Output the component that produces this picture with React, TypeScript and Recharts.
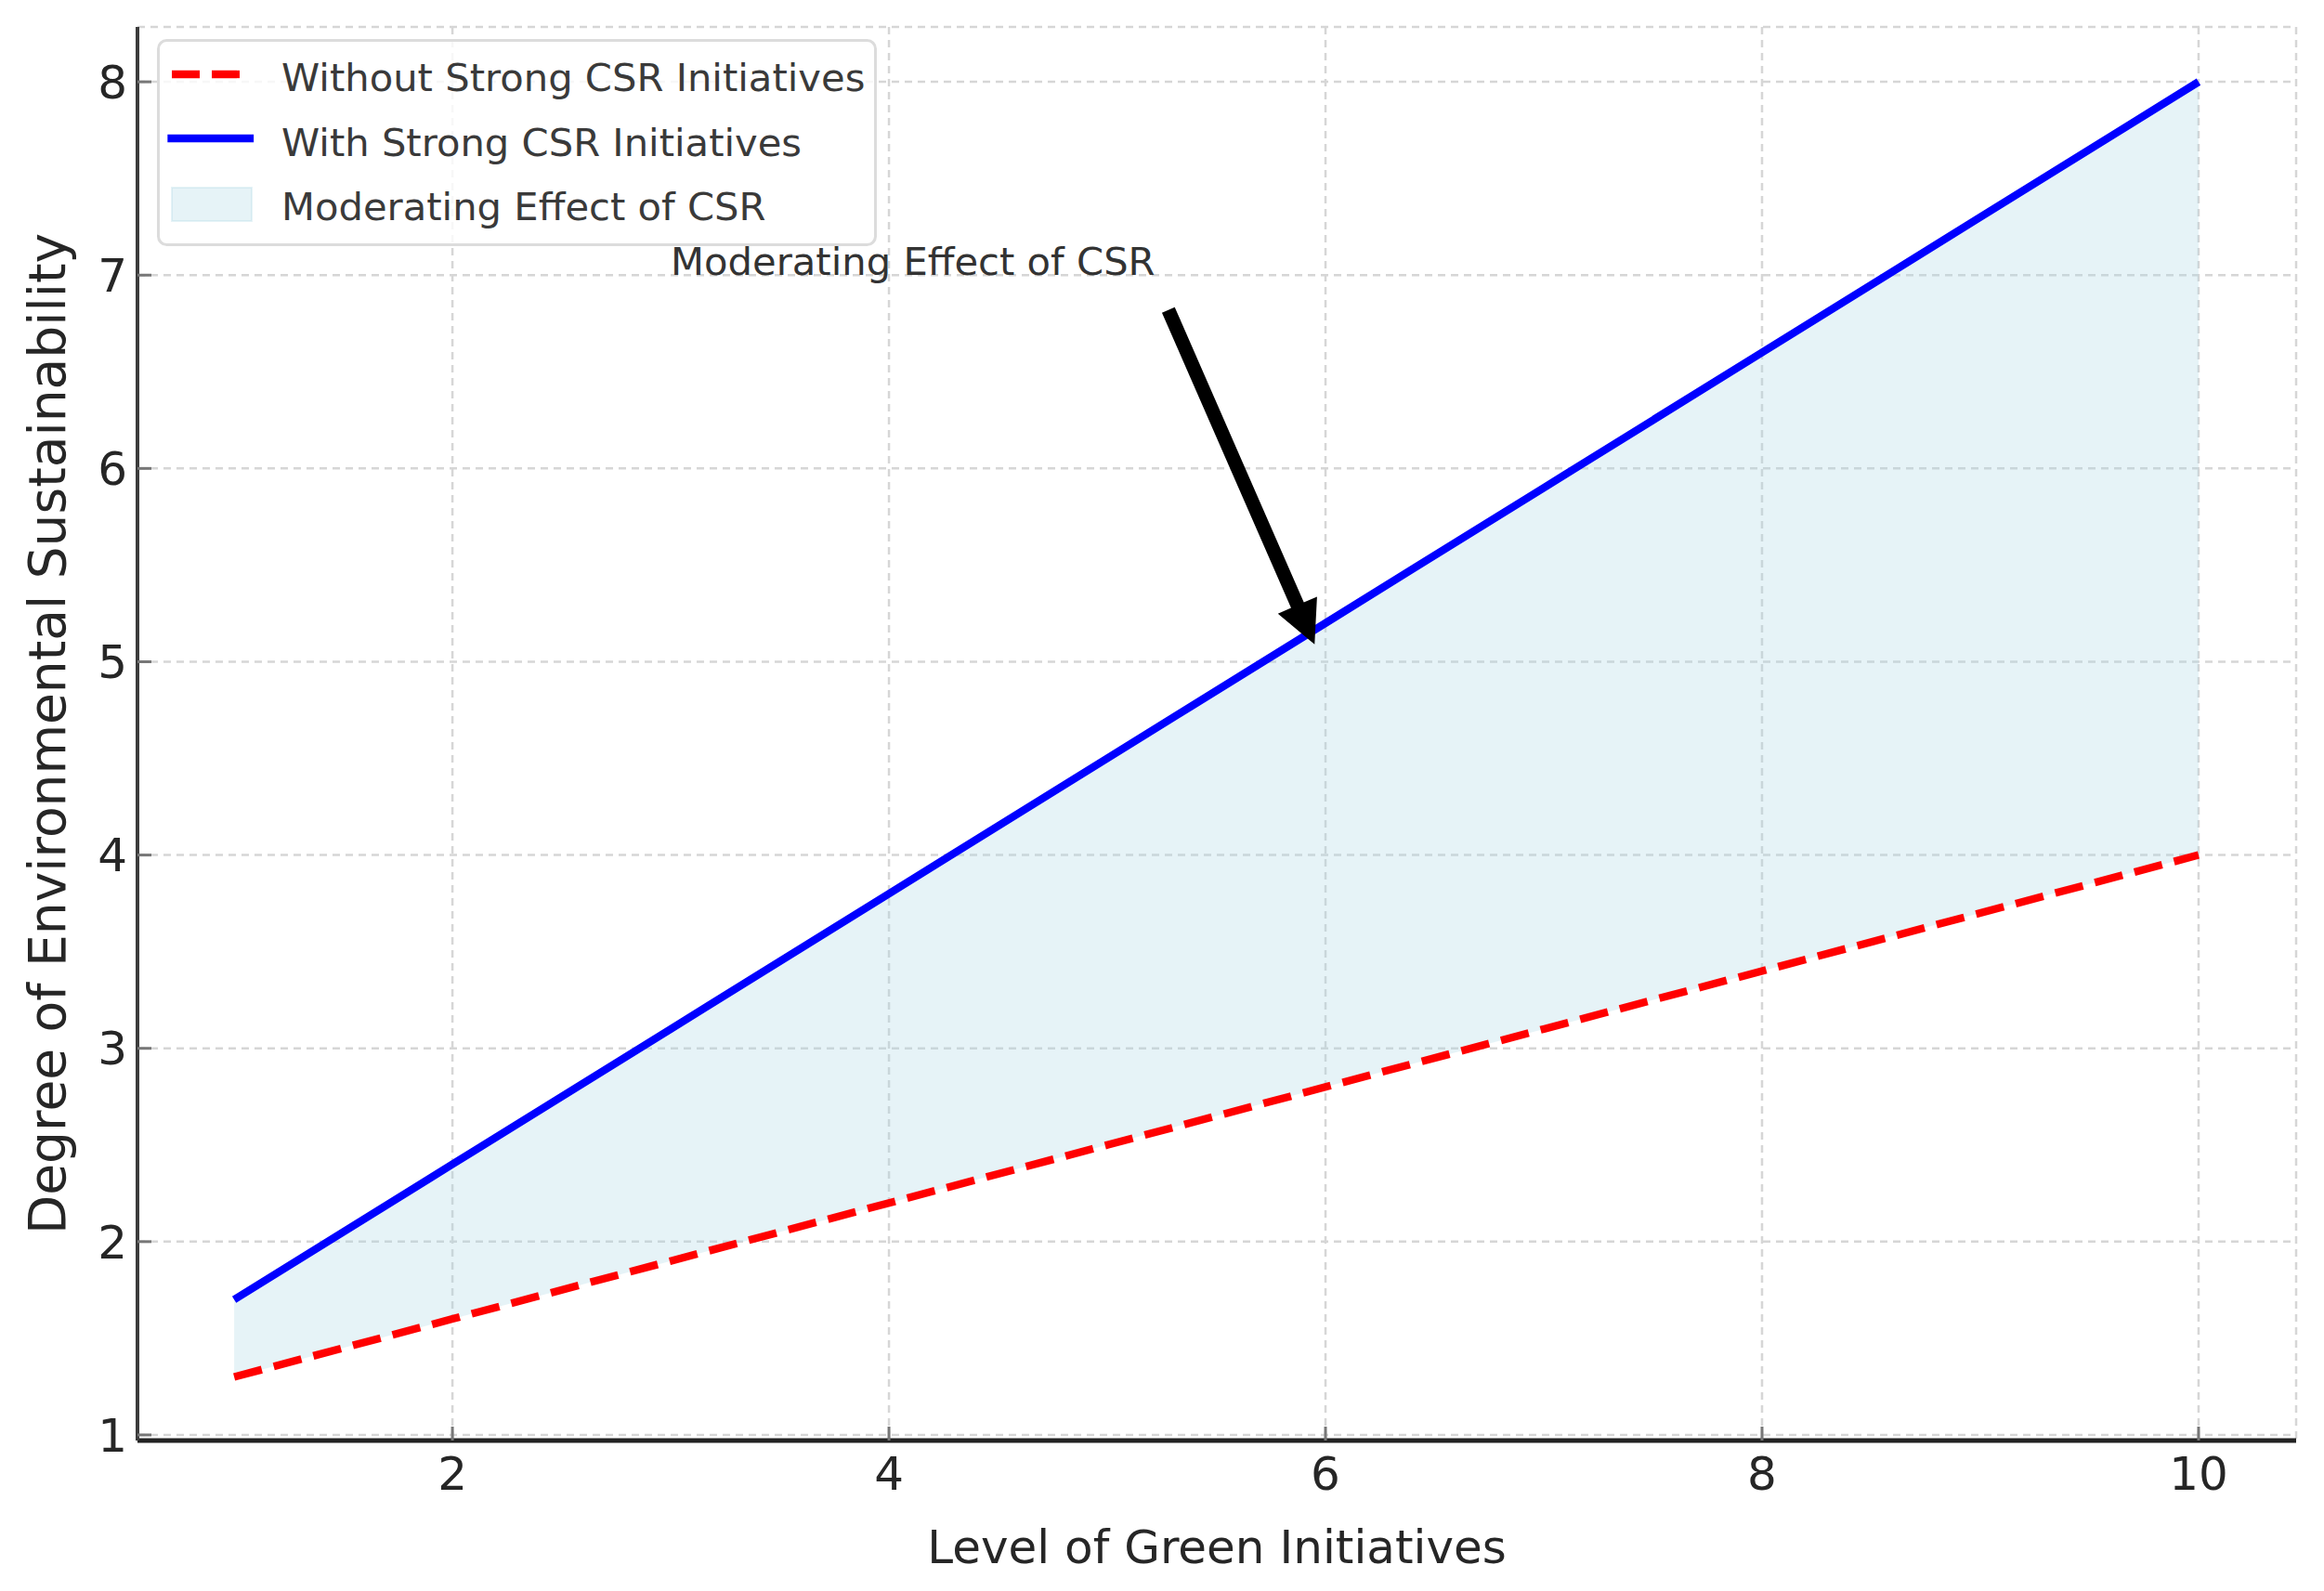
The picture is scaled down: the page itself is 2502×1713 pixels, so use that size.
import {
  ComposedChart,
  Line,
  Area,
  XAxis,
  YAxis,
  CartesianGrid,
  Legend,
  ReferenceDot,
  ReferenceLine,
  Label,
} from "recharts";

const FONT = "DejaVu Sans";

// level of green initiatives (x)
const greenLevels = [1, 2, 3, 4, 5, 6, 7, 8, 9, 10];
// degree of environmental sustainability
const withoutCSR = [1.3, 1.6, 1.9, 2.2, 2.5, 2.8, 3.1, 3.4, 3.7, 4.0];
const withCSR = [1.7, 2.4, 3.1, 3.8, 4.5, 5.2, 5.9, 6.6, 7.3, 8.0];

const seriesNames = [
  "Without Strong CSR Initiatives",
  "With Strong CSR Initiatives",
  "Moderating Effect of CSR",
];

const xTicks = [2, 4, 6, 8, 10];
const yTicks = [1, 2, 3, 4, 5, 6, 7, 8];

const annotationText = "Moderating Effect of CSR";
const annotationAt = { x: 3, y: 7 };
const arrowTail = { x: 5.28, y: 6.82 };
const arrowTip = { x: 5.95, y: 5.09 };

const data = greenLevels.map((level, i) => ({
  level,
  without: withoutCSR[i],
  with: withCSR[i],
  band: [withoutCSR[i], withCSR[i]],
}));

function Arrow(props: any) {
  const { x1, y1, x2, y2 } = props;
  if ([x1, y1, x2, y2].some((v) => typeof v !== "number")) return null;
  const dx = x2 - x1;
  const dy = y2 - y1;
  const len = Math.sqrt(dx * dx + dy * dy);
  const ux = dx / len;
  const uy = dy / len;
  const nx = -uy;
  const ny = ux;
  const shaft = 7.5;
  const head = 23;
  const headLen = 46;
  const bx = x2 - ux * headLen;
  const by = y2 - uy * headLen;
  const pts = [
    [x1 + nx * shaft, y1 + ny * shaft],
    [bx + nx * shaft, by + ny * shaft],
    [bx + nx * head, by + ny * head],
    [x2, y2],
    [bx - nx * head, by - ny * head],
    [bx - nx * shaft, by - ny * shaft],
    [x1 - nx * shaft, y1 - ny * shaft],
  ];
  return <polygon points={pts.map((p) => p.join(",")).join(" ")} fill="#000" />;
}

function AnnotationText(props: any) {
  const { cx, cy } = props;
  return (
    <text x={cx} y={cy} fontFamily={FONT} fontSize={41.7} fill="#333">
      {annotationText}
    </text>
  );
}

function LegendBox() {
  return (
    <svg width={775} height={223} style={{ display: "block" }}>
      <rect x={1.5} y={1.5} width={772} height={220} rx={9} fill="#fff" fillOpacity={0.8} stroke="#dcdcdc" strokeWidth={3} />
      <line x1={16} y1={38} x2={100} y2={38} stroke="#ff0000" strokeWidth={8.3} strokeDasharray="30 13" />
      <line x1={15.5} y1={107} x2={100} y2={107} stroke="#0000ff" strokeWidth={8.3} strokeLinecap="square" />
      <rect x={16} y={160} width={86} height={36} fill="#add8e6" fillOpacity={0.3} stroke="#add8e6" strokeOpacity={0.3} strokeWidth={2} />
      {seriesNames.map((name, i) => (
        <text key={name} x={134} y={56 + i * 69.5} fontFamily={FONT} fontSize={41.7} fill="#3a3a3a">
          {name}
        </text>
      ))}
    </svg>
  );
}

export default function App() {
  return (
    <div style={{ fontFamily: FONT }}>
      <ComposedChart
        width={2486}
        height={1697}
        data={data}
        margin={{ top: 21, right: 22, bottom: 0, left: 0 }}
      >
        <CartesianGrid stroke="#d6d6d6" strokeWidth={2.5} strokeDasharray="8 6" />
        <XAxis
          dataKey="level"
          type="number"
          domain={[0.557, 10.447]}
          ticks={xTicks}
          allowDataOverflow
          height={154}
          tickSize={-15}
          tickMargin={32}
          tick={{ fontSize: 50, fill: "#262626", fontFamily: FONT }}
          axisLine={{ stroke: "#222", strokeWidth: 5 }}
          tickLine={{ stroke: "#777", strokeWidth: 3 }}
        >
          <Label
            value="Level of Green Initiatives"
            position="insideBottom"
            offset={22}
            style={{ fontSize: 50, fill: "#262626", fontFamily: FONT }}
          />
        </XAxis>
        <YAxis
          type="number"
          domain={[0.971, 8.284]}
          ticks={yTicks}
          allowDataOverflow
          width={140}
          tickSize={-15}
          tickMargin={26}
          tick={{ fontSize: 50, fill: "#262626", fontFamily: FONT }}
          axisLine={{ stroke: "#3c3c3c", strokeWidth: 4 }}
          tickLine={{ stroke: "#777", strokeWidth: 3 }}
        >
          <Label
            value="Degree of Environmental Sustainability"
            angle={-90}
            position="insideLeft"
            offset={42}
            style={{ fontSize: 55, fill: "#262626", fontFamily: FONT, textAnchor: "middle" }}
          />
        </YAxis>
        <Area
          dataKey="band"
          type="linear"
          fill="#add8e6"
          fillOpacity={0.3}
          stroke="none"
          name={seriesNames[2]}
          isAnimationActive={false}
        />
        <Line
          dataKey="without"
          type="linear"
          stroke="#ff0000"
          strokeWidth={8.3}
          strokeDasharray="30.8 13.3"
          dot={false}
          activeDot={false}
          name={seriesNames[0]}
          isAnimationActive={false}
        />
        <Line
          dataKey="with"
          type="linear"
          stroke="#0000ff"
          strokeWidth={8.3}
          dot={false}
          activeDot={false}
          name={seriesNames[1]}
          isAnimationActive={false}
        />
        <ReferenceLine segment={[arrowTail, arrowTip]} shape={Arrow} />
        <ReferenceDot x={annotationAt.x} y={annotationAt.y} r={0} shape={AnnotationText} />
        <Legend
          layout="vertical"
          align="center"
          verticalAlign="middle"
          content={() => <LegendBox />}
          wrapperStyle={{ position: "absolute", left: 161, top: 34, width: 775, height: 223 }}
        />
      </ComposedChart>
    </div>
  );
}
